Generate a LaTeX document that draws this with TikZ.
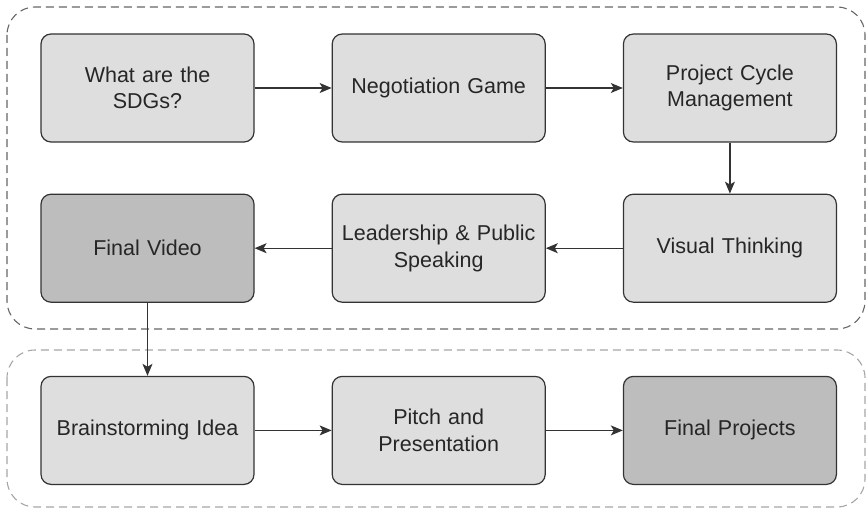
\documentclass[tikz,border=0pt]{standalone}
\usepackage{fontspec}
\setmainfont{Liberation Sans}
\usetikzlibrary{positioning, arrows.meta}
\definecolor{boxgray}{RGB}{222,222,222}
\definecolor{darkbox}{RGB}{189,189,189}
\definecolor{linegray}{RGB}{51,51,51}

\tikzset{
	stagebox/.style={draw=linegray, fill=boxgray, text=black!85, rounded corners=10pt,
		line width=1.2pt, minimum width=213pt, minimum height=108pt, text width=205pt,
		align=center, inner sep=0pt, font=\fontsize{21.5}{26.5}\selectfont},
	finalbox/.style={stagebox, fill=darkbox},
	flow/.style={-{Stealth[length=12pt,width=10pt,inset=3pt]}, draw=linegray, line width=1.2pt},
	group/.style={dash pattern=on 8pt off 5pt, rounded corners=28pt, line width=1.1pt},
}

\begin{document}
\begin{tikzpicture}
		\useasboundingbox (0pt,0pt) rectangle (866pt,-508pt);
		% groups
		\draw[group, draw=black!60] (7pt,-7pt) rectangle (865pt,-329pt);
		\draw[group, draw=black!35] (7pt,-350pt) rectangle (865pt,-507pt);
		% first row
		\node[stagebox] (sdgs) at (147.5pt,-88pt) {What are the\\SDGs?};
		\node[stagebox, right=77pt of sdgs] (negotiation) {Negotiation Game};
		\node[stagebox, right=77pt of negotiation] (cycle) {Project Cycle\\Management};
		% second row
		\node[stagebox, below=51pt of cycle] (visual) {Visual Thinking};
		\node[stagebox, left=77pt of visual] (leadership) {Leadership \& Public\\Speaking};
		\node[finalbox, left=77pt of leadership] (video) {Final Video};
		% third row
		\node[stagebox, below=73pt of video] (brainstorm) {Brainstorming Idea};
		\node[stagebox, right=77pt of brainstorm] (pitch) {Pitch and\\Presentation};
		\node[finalbox, right=77pt of pitch] (projects) {Final Projects};
		% connectors
		\draw[flow] (sdgs) -- (negotiation);
		\draw[flow] (negotiation) -- (cycle);
		\draw[flow] (cycle) -- (visual);
		\draw[flow] (visual) -- (leadership);
		\draw[flow] (leadership) -- (video);
		\draw[flow] (video) -- (brainstorm);
		\draw[flow] (brainstorm) -- (pitch);
		\draw[flow] (pitch) -- (projects);
	\end{tikzpicture}
\end{document}
